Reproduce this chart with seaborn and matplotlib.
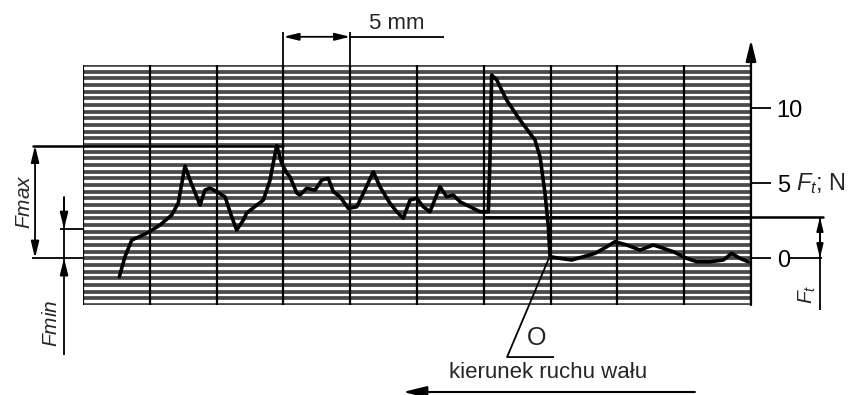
import numpy as np
import matplotlib
matplotlib.use("Agg")
import matplotlib.pyplot as plt
from matplotlib.patches import ArrowStyle
import seaborn as sns

# Recorded tangential force F_t [N] against shaft travel [mm]
travel_mm = [2.72, 3.14, 3.65, 4.77, 5.76, 6.64, 7.13, 7.63, 8.01, 8.76,
             9.13, 9.51, 10.01, 10.63, 11.13, 11.50, 12.00, 12.25, 13.50, 14.00,
             14.24, 14.50, 14.87, 15.25, 15.49, 16.00, 16.24, 16.74, 17.37, 17.87,
             18.36, 18.74, 19.24, 19.86, 20.49, 20.98, 21.73, 22.23, 22.98, 23.48,
             23.97, 24.48, 24.98, 25.47, 25.97, 26.72, 27.22, 27.72, 28.22, 28.97,
             29.72, 30.34, 30.46, 30.59, 30.97, 31.71, 32.71, 33.83, 34.21, 34.58,
             34.83, 34.96, 35.70, 36.58, 37.45, 38.32, 39.20, 39.82, 40.70, 41.69,
             42.69, 43.44, 44.19, 45.19, 45.94, 46.93, 47.93, 48.55, 49.18, 49.80]
force_n = [-1.25, 0.09, 1.20, 1.65, 2.20, 2.87, 3.67, 6.13, 5.20, 3.53,
           4.53, 4.67, 4.42, 4.09, 2.75, 1.87, 2.53, 3.00, 3.87, 5.20,
           6.33, 7.50, 6.33, 5.67, 5.42, 4.33, 4.20, 4.65, 4.53, 5.20,
           5.31, 4.42, 4.09, 3.31, 3.42, 4.31, 5.75, 4.75, 3.65, 3.09,
           2.65, 3.87, 3.98, 3.42, 3.09, 4.75, 4.09, 4.20, 3.75, 3.42,
           3.09, 3.09, 6.53, 12.20, 11.87, 10.53, 9.20, 7.87, 6.75, 4.31,
           2.09, 0.09, -0.02, -0.13, 0.09, 0.31, 0.75, 1.09, 0.87, 0.53,
           0.87, 0.65, 0.42, -0.02, -0.25, -0.25, -0.13, 0.31, -0.02, -0.25]

# Characteristic force levels marked on the record [N]
f_max = 7.5
f_min = 1.93
f_t = 2.73

y_ticks = [0, 5, 10]
y_tick_labels = ["0", "5", "10"]
division_mm = 5
chart_length_mm = 50

sns.set_theme(style="white")
plt.rcParams["font.family"] = ["Liberation Sans", "DejaVu Sans"]
plt.rcParams["mathtext.fontset"] = "custom"
plt.rcParams["mathtext.rm"] = "Liberation Sans"
plt.rcParams["mathtext.it"] = "Liberation Sans:italic"

fig = plt.figure(figsize=(8.64, 3.95), dpi=100)
ax = fig.add_axes([83 / 864, 90 / 395, 668 / 864, 240 / 395])
y_lo, y_hi = -3.13, 12.87
ax.set_xlim(0, chart_length_mm)
ax.set_ylim(y_lo, y_hi)
for s in ax.spines.values():
    s.set_visible(False)

# chart paper ruling
for y in np.linspace(y_lo, y_hi, 37):
    ax.axhline(y, color="#4a4a4a", lw=2.7, zorder=1)
for x in np.arange(0, chart_length_mm + 0.1, division_mm):
    ax.axvline(x, color="black", lw=1.6, zorder=2)

# force trace
sns.lineplot(x=travel_mm, y=force_n, ax=ax, color="black", lw=2.6,
             sort=False, estimator=None, zorder=6)

# right-hand force scale
ax.set_xticks([])
ax.yaxis.tick_right()
ax.set_yticks(y_ticks)
ax.set_yticklabels(y_tick_labels)
ax.tick_params(axis="y", right=True, left=False, length=14.5, width=1.3,
               pad=4, labelsize=17, colors="black")
ax.grid(False)

k = dict(color="black", lw=1.3, clip_on=False, solid_capstyle="butt")
head = ArrowStyle("-|>", head_length=0.9, head_width=0.22)
head2 = ArrowStyle("<|-|>", head_length=0.9, head_width=0.22)


def arrow(x0, y0, x1, y1, style=head, scale=12, lw=1.3):
    ax.annotate("", xy=(x1, y1), xytext=(x0, y0), annotation_clip=False,
                arrowprops=dict(arrowstyle=style, color="black", lw=lw,
                                mutation_scale=scale, shrinkA=0, shrinkB=0))


# vertical axis with arrow
arrow(chart_length_mm, y_lo, chart_length_mm, 14.55, scale=14, lw=1.6)
ax.text(53.4, 5, "$F_t$; N", fontsize=17, ha="left", va="center")
ax.plot([52.92, 55.3], [0, 0], **k)

# 5 mm division dimension
ax.plot([15.0, 15.0], [y_hi, 15.05], **k)
ax.plot([20.0, 20.0], [y_hi, 15.05], **k)
arrow(15.0, 14.75, 20.0, 14.75, style=head2, scale=10)
ax.plot([20.0, 27.0], [14.75, 14.75], **k)
ax.text(23.5, 14.95, "5 mm", fontsize=16, ha="center", va="bottom")

# F_max dimension
ax.plot([-3.74, 15.0], [f_max, f_max], color="black", lw=1.8, clip_on=False,
        zorder=4)
ax.plot([-3.82, 0], [0, 0], **k)
arrow(-3.59, f_max, -3.59, 0, style=head2, scale=11)
ax.text(-4.35, 3.75, "$Fmax$", fontsize=15, rotation=90,
        ha="center", va="center")

# F_min dimension
ax.plot([-1.72, 0], [f_min, f_min], **k)
ax.plot([-1.42, -1.42], [4.07, -6.47], **k)
arrow(-1.42, 4.07, -1.42, f_min, scale=11)
arrow(-1.42, -1.0, -1.42, 0, scale=11)
ax.text(-2.35, -4.35, "$Fmin$", fontsize=15, rotation=90,
        ha="center", va="center")

# F_t dimension
ax.plot([30.0, 55.4], [f_t, f_t], color="black", lw=1.8, clip_on=False,
        zorder=4)
ax.plot([55.16, 55.16], [f_t, -3.47], **k)
arrow(55.16, 1.3, 55.16, f_t, scale=9)
arrow(55.16, 1.3, 55.16, 0, scale=9)
ax.text(54.25, -2.45, "$F_t$", fontsize=15, rotation=90,
        ha="center", va="center")

# start point O and direction of shaft motion
ax.plot([34.88, 31.74, 35.26], [0, -6.6, -6.6], **k)
ax.text(33.98, -5.35, "O", fontsize=18, ha="center", va="center")
ax.text(34.8, -7.6, "kierunek ruchu wału", fontsize=16, ha="center",
        va="center")
arrow(45.8, -8.93, 23.95, -8.93, scale=16, lw=1.5)

fig.savefig("out.png", dpi=100, facecolor="white")
